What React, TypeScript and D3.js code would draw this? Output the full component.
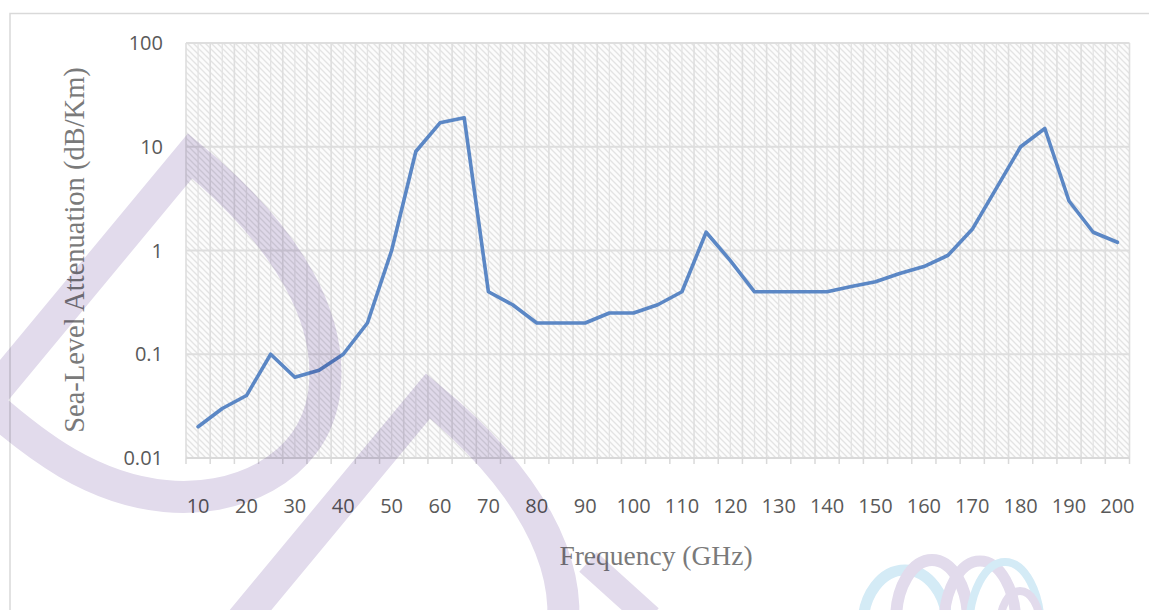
import React from "react";
import * as d3 from "d3";

const frequencies = [10, 15, 20, 25, 30, 35, 40, 45, 50, 55, 60, 65, 70, 75, 80, 85, 90, 95, 100, 105, 110, 115, 120, 125, 130, 135, 140, 145, 150, 155, 160, 165, 170, 175, 180, 185, 190, 195, 200];
const attenuation = [0.02, 0.03, 0.04, 0.1, 0.06, 0.07, 0.1, 0.2, 1, 9, 17, 19, 0.4, 0.3, 0.2, 0.2, 0.2, 0.25, 0.25, 0.3, 0.4, 1.5, 0.8, 0.4, 0.4, 0.4, 0.4, 0.45, 0.5, 0.6, 0.7, 0.9, 1.6, 4, 10, 15, 3, 1.5, 1.2];
const xTickLabels = [10, 20, 30, 40, 50, 60, 70, 80, 90, 100, 110, 120, 130, 140, 150, 160, 170, 180, 190, 200];
const yTickValues = [0.01, 0.1, 1, 10, 100];
const yTickLabels = ["0.01", "0.1", "1", "10", "100"];
const xTitle = "Frequency (GHz)";
const yTitle = "Sea-Level Attenuation (dB/Km)";

export default function App() {
  const W = 1149;
  const H = 610;
  const plot = { left: 186, right: 1129.5, top: 43, bottom: 458 };
  const x = d3.scaleBand<number>().domain(frequencies).range([plot.left, plot.right]).padding(0);
  const bw = x.bandwidth();
  const cx = (f: number) => (x(f) as number) + bw / 2;
  const y = d3.scaleLog().domain([0.01, 100]).range([plot.bottom, plot.top]);
  const line = d3
    .line<number>()
    .x((_, i) => cx(frequencies[i]))
    .y((d) => y(d));

  const boundaries = frequencies.map((f) => x(f) as number).concat([plot.right]);
  const centers = frequencies.map((f) => cx(f));

  const tickFont = "'Open Sans', 'Liberation Sans', sans-serif";
  const titleFont = "'Liberation Serif', 'Times New Roman', serif";
  const wm = "#e2dbec";
  const wmBlue = "#d4ebf6";
  const dShape = "M -14,402 L 190,156 C 292,240 334,322 324,394 C 312,472 232,503 165,496 C 92,489 36,446 -14,402 Z";

  return (
    <svg width={W} height={H} style={{ position: "absolute", left: 0, top: 0, background: "#fff" }}>
      <defs>
        <pattern id="hatch" patternUnits="userSpaceOnUse" width="6" height="6">
          <rect width="6" height="6" fill="#fcfcfc" />
          <path d="M-1,-1 L7,7 M-4,2 L2,8 M4,-2 L8,2" stroke="#e3e3e3" strokeWidth="1.3" />
        </pattern>
      </defs>
      <rect x={0} y={0} width={W} height={H} fill="#fff" />
      <rect x={10} y={13.5} width={W + 10} height={H + 10} fill="none" stroke="#d9d9d9" strokeWidth={1.5} />

      <rect x={plot.left} y={plot.top} width={plot.right - plot.left} height={plot.bottom - plot.top} fill="url(#hatch)" />

      {centers.map((v, i) => (
        <line key={"c" + i} x1={v} x2={v} y1={plot.top} y2={plot.bottom} stroke="#e3e3e3" strokeWidth={1.3} />
      ))}
      {boundaries.map((v, i) => (
        <line key={"b" + i} x1={v} x2={v} y1={plot.top} y2={plot.bottom} stroke="#dedede" strokeWidth={1.6} />
      ))}
      {yTickValues.map((v, i) => (
        <line key={"h" + i} x1={plot.left} x2={plot.right} y1={y(v)} y2={y(v)} stroke="#dedede" strokeWidth={1.8} />
      ))}
      <line x1={plot.left} x2={plot.right} y1={plot.bottom} y2={plot.bottom} stroke="#d9d9d9" strokeWidth={1.8} />
      {boundaries.map((v, i) => (
        <line key={"t" + i} x1={v} x2={v} y1={plot.bottom} y2={plot.bottom + 6} stroke="#d9d9d9" strokeWidth={1.5} />
      ))}

      <path d={line(attenuation) || ""} fill="none" stroke="#5b87c5" strokeWidth={3.6} strokeLinejoin="round" strokeLinecap="round" />

      {yTickValues.map((v, i) => (
        <text key={"yl" + i} x={163} y={y(v)} dy="0.36em" textAnchor="end" fontFamily={tickFont} fontSize={20} fill="#595959">
          {yTickLabels[i]}
        </text>
      ))}
      {xTickLabels.map((v, i) => (
        <text key={"xl" + i} x={cx(v)} y={513} textAnchor="middle" fontFamily={tickFont} fontSize={20} fill="#595959">
          {v}
        </text>
      ))}

      <text x={656} y={565} textAnchor="middle" fontFamily={titleFont} fontSize={27.5} fill="#7a7a7a">
        {xTitle}
      </text>
      <text transform="translate(84,250) rotate(-90)" textAnchor="middle" fontFamily={titleFont} fontSize={28.5} fill="#7a7a7a">
        {yTitle}
      </text>

      {/* watermark */}
      <g style={{ mixBlendMode: "multiply" }} fill="none">
        <path d={dShape} stroke={wm} strokeWidth={32} strokeLinejoin="miter" />
        <g transform="translate(238,240)">
          <path d={dShape} stroke={wm} strokeWidth={32} strokeLinejoin="miter" />
        </g>
        <path d="M 588,562 L 650,618" stroke={wm} strokeWidth={26} />
        <ellipse cx={905} cy={625} rx={42} ry={55} stroke={wmBlue} strokeWidth={11} />
        <ellipse cx={932} cy={620} rx={36} ry={60} stroke={wm} strokeWidth={12} />
        <ellipse cx={980} cy={625} rx={36} ry={64} stroke={wm} strokeWidth={11} />
        <ellipse cx={1005} cy={630} rx={36} ry={68} stroke={wmBlue} strokeWidth={8} />
        <ellipse cx={1020} cy={625} rx={20} ry={34} stroke={wm} strokeWidth={8} />
      </g>
    </svg>
  );
}
